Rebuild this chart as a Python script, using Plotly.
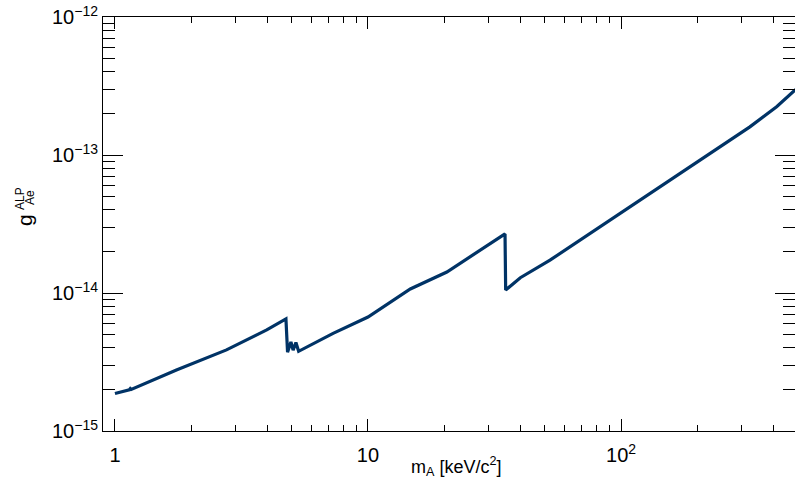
import numpy as np
import plotly.graph_objects as go

# ALP mass [keV/c^2]
mass = [1.0, 1.14, 1.15, 1.16, 1.75, 2.76, 3.98, 4.74, 4.81, 4.96, 5.06, 5.19, 5.32,
        7.28, 10.0, 14.7, 20.5, 33.2, 34.8, 35.0, 40.0, 52.4, 82.6, 130.0, 205.0,
        323.0, 412.0, 490.0]
# coupling limit g_Ae
g_ae = [1.87e-15, 1.99e-15, 2.03e-15, 2.0e-15, 2.77e-15, 3.87e-15, 5.40e-15, 6.49e-15,
        3.72e-15, 4.42e-15, 3.85e-15, 4.38e-15, 3.78e-15,
        5.1e-15, 6.7e-15, 1.07e-14, 1.42e-14, 2.5e-14, 2.68e-14, 1.05e-14, 1.29e-14,
        1.73e-14, 3.02e-14, 5.31e-14, 9.2e-14, 1.60e-13, 2.24e-13, 2.98e-13]

x_major = [1, 10, 100]
x_major_text = ["1", "10", "10<sup>2</sup>"]
x_minor = [2, 3, 4, 5, 6, 7, 8, 9, 20, 30, 40, 50, 60, 70, 80, 90, 200, 300, 400]
y_major = [1e-15, 1e-14, 1e-13, 1e-12]
y_major_text = ["10<sup>\u221215</sup>", "10<sup>\u221214</sup>", "10<sup>\u221213</sup>", "10<sup>\u221212</sup>"]
y_minor = [m * 10.0 ** e for e in (-15, -14, -13) for m in range(2, 10)]

fig = go.Figure()
fig.add_trace(go.Scatter(x=mass, y=g_ae, mode="lines",
                         line=dict(color="#003366", width=3.2),
                         hoverinfo="skip"))

font_family = "Liberation Sans, Arial, sans-serif"
fig.update_layout(
    width=795, height=481,
    margin=dict(l=103, r=0, t=17, b=50),
    plot_bgcolor="white", paper_bgcolor="white",
    showlegend=False,
    font=dict(family=font_family, size=20, color="black"),
)
fig.update_xaxes(
    type="log", range=[np.log10(0.897), np.log10(487)],
    tickmode="array", tickvals=x_major, ticktext=x_major_text,
    ticks="inside", ticklen=12, tickwidth=1, tickcolor="black",
    showline=True, linecolor="black", linewidth=1, mirror="ticks",
    showgrid=False, zeroline=False, automargin=False,
    tickfont=dict(size=20), ticklabelstandoff=6,
    minor=dict(tickmode="array", tickvals=x_minor, ticks="inside", ticklen=6,
               tickcolor="black", tickwidth=1, showgrid=False),
)
fig.update_yaxes(
    type="log", range=[-15, -12],
    tickmode="array", tickvals=y_major, ticktext=y_major_text,
    ticks="inside", ticklen=20, tickwidth=1, tickcolor="black",
    showline=True, linecolor="black", linewidth=1, mirror="ticks",
    showgrid=False, zeroline=False, automargin=False,
    tickfont=dict(size=20),
    minor=dict(tickmode="array", tickvals=y_minor, ticks="inside", ticklen=12,
               tickcolor="black", tickwidth=1, showgrid=False),
)

# axis titles
fig.add_annotation(text="m<sub>A</sub> [keV/c<sup>2</sup>]", xref="paper", yref="paper",
                   x=(503 - 103) / 692, y=-(466 - 431) / 414, xanchor="right", yanchor="middle",
                   showarrow=False, font=dict(size=18))
fig.add_annotation(text="g", xref="paper", yref="paper",
                   x=(25 - 103) / 692, y=(431 - 220) / 414, textangle=-90,
                   xanchor="center", yanchor="middle", showarrow=False, font=dict(size=21))
fig.add_annotation(text="ALP", xref="paper", yref="paper",
                   x=(20 - 103) / 692, y=(431 - 199) / 414, textangle=-90,
                   xanchor="center", yanchor="middle", showarrow=False, font=dict(size=12))
fig.add_annotation(text="Ae", xref="paper", yref="paper",
                   x=(30 - 103) / 692, y=(431 - 198) / 414, textangle=-90,
                   xanchor="center", yanchor="middle", showarrow=False, font=dict(size=12))

fig.write_html("out.html")
